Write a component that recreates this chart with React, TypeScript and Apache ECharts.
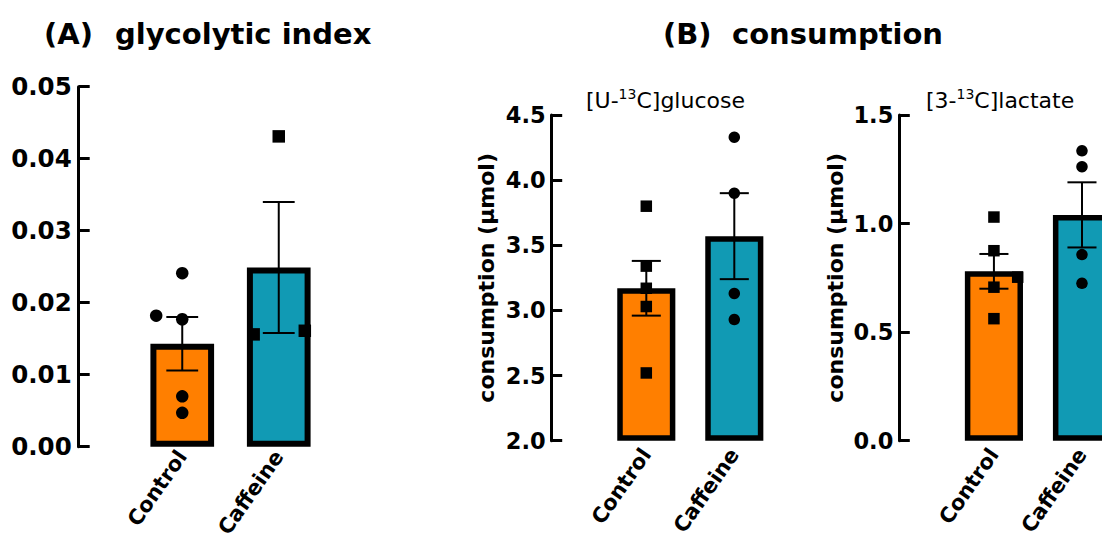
import React, { useEffect, useRef } from 'react';
import * as echarts from 'echarts';

// ---------- data ----------
const categories = ['Control', 'Caffeine'];

// (A) glycolytic index
const giMean = [0.0143, 0.0249];
const giSem = [0.0037, 0.0091];
const giControl = [0.0241, 0.0182, 0.0177, 0.007, 0.0047];
const giControlJitter = [0, -0.27, 0, 0, 0];
const giCaffeine = [0.0431, 0.0156, 0.0161];
const giCaffeineJitter = [0, -0.26, 0.27];

// (B) [U-13C]glucose consumption (µmol)
const gluMean = [3.17, 3.57];
const gluSem = [0.21, 0.33];
const gluControl = [3.8, 3.34, 3.17, 3.03, 2.52];
const gluControlJitter = [0, 0, 0, 0, 0];
const gluCaffeine = [4.33, 3.9, 3.13, 2.93];
const gluCaffeineJitter = [0, 0, 0, 0];

// (B) [3-13C]lactate consumption (µmol)
const lacMean = [0.78, 1.04];
const lacSem = [0.08, 0.15];
const lacControl = [1.03, 0.875, 0.707, 0.753, 0.562];
const lacControlJitter = [0, 0, 0, 0.27, 0];
const lacCaffeine = [1.335, 1.262, 0.857, 0.725];
const lacCaffeineJitter = [0, 0, 0, 0];

// ---------- style ----------
const FONT = 'DejaVu Sans';
const ORANGE = '#FF7F00';
const TEAL = '#119AB4';
const BAR_COLORS = [ORANGE, TEAL];

type Panel = {
  grid: { left: number; right: number; top: number; bottom: number };
  yMin: number;
  yMax: number;
  yInterval: number;
  decimals: number;
  yOffset: number;
  labelSize: number;
  xLabelSize: number;
  xLabelMargin: number;
  labelMargin: number;
  tickLen: number;
  yName?: string;
  nameGap?: number;
  means: number[];
  sems: number[];
  ctrl: number[];
  ctrlJit: number[];
  caf: number[];
  cafJit: number[];
  ctrlSymbol: string;
  cafSymbol: string;
  symSize: number;
  borderW: number;
};

const panels: Panel[] = [
  {
    grid: { left: 134, right: 1102 - 327, top: 86.7, bottom: 540 - 446.7 },
    yMin: 0, yMax: 0.05, yInterval: 0.01, decimals: 2, yOffset: 55.3,
    labelSize: 24.5, xLabelSize: 21, xLabelMargin: 6, labelMargin: 7, tickLen: 11,
    means: giMean, sems: giSem,
    ctrl: giControl, ctrlJit: giControlJitter, caf: giCaffeine, cafJit: giCaffeineJitter,
    ctrlSymbol: 'circle', cafSymbol: 'rect', symSize: 12.5, borderW: 6,
  },
  {
    grid: { left: 602.3, right: 1102 - 778.3, top: 115, bottom: 540 - 440.7 },
    yMin: 2, yMax: 4.5, yInterval: 0.5, decimals: 1, yOffset: 50.6,
    labelSize: 22.5, xLabelSize: 21, xLabelMargin: 10, labelMargin: 6, tickLen: 10.5,
    yName: 'consumption (µmol)', nameGap: 54,
    means: gluMean, sems: gluSem,
    ctrl: gluControl, ctrlJit: gluControlJitter, caf: gluCaffeine, cafJit: gluCaffeineJitter,
    ctrlSymbol: 'rect', cafSymbol: 'circle', symSize: 11.5, borderW: 5.5,
  },
  {
    grid: { left: 949.9, right: 1102 - 1126, top: 115, bottom: 540 - 440.7 },
    yMin: 0, yMax: 1.5, yInterval: 0.5, decimals: 1, yOffset: 50.6,
    labelSize: 22.5, xLabelSize: 21, xLabelMargin: 10, labelMargin: 6, tickLen: 10.5,
    yName: 'consumption (µmol)', nameGap: 53,
    means: lacMean, sems: lacSem,
    ctrl: lacControl, ctrlJit: lacControlJitter, caf: lacCaffeine, cafJit: lacCaffeineJitter,
    ctrlSymbol: 'rect', cafSymbol: 'circle', symSize: 11.5, borderW: 5.5,
  },
];

function buildOption() {
  const grid: any[] = [];
  const xAxis: any[] = [];
  const yAxis: any[] = [];
  const series: any[] = [];

  panels.forEach((p, i) => {
    grid.push({ ...p.grid, containLabel: false, outerBoundsMode: 'none' });
    xAxis.push({
      gridIndex: i,
      type: 'category',
      data: categories,
      axisLine: { show: false, onZero: false },
      axisTick: { show: false },
      splitLine: { show: false },
      axisLabel: {
        interval: 0,
        rotate: 55,
        margin: p.xLabelMargin,
        color: '#000',
        fontFamily: FONT,
        fontWeight: 'bold',
        fontSize: p.xLabelSize,
      },
    });
    xAxis.push({
      gridIndex: i,
      type: 'value',
      min: -0.5,
      max: 1.5,
      show: false,
      axisLine: { onZero: false },
    });
    yAxis.push({
      gridIndex: i,
      type: 'value',
      min: p.yMin,
      max: p.yMax,
      interval: p.yInterval,
      offset: p.yOffset,
      axisLine: { show: true, onZero: false, lineStyle: { color: '#000', width: 3 } },
      axisTick: { show: true, inside: true, length: p.tickLen, lineStyle: { color: '#000', width: 3 } },
      splitLine: { show: false },
      axisLabel: {
        color: '#000',
        fontFamily: FONT,
        fontWeight: 'bold',
        fontSize: p.labelSize,
        margin: p.labelMargin,
        formatter: (v: number) => v.toFixed(p.decimals),
      },
      name: p.yName || '',
      nameLocation: 'middle',
      nameGap: p.nameGap || 0,
      nameTextStyle: { color: '#000', fontFamily: FONT, fontWeight: 'bold', fontSize: 22 },
    });

    const base = p.yMin;
    const bw = p.borderW;
    // bars
    series.push({
      type: 'custom',
      xAxisIndex: 2 * i,
      yAxisIndex: i,
      z: 2,
      data: p.means.map((m, k) => [k, m]),
      renderItem: (params: any, api: any) => {
        const k = api.value(0);
        const v = api.value(1);
        const top = api.coord([k, v]);
        const bot = api.coord([k, base]);
        const w = api.size([1, 0])[0] * 0.66;
        return {
          type: 'rect',
          shape: {
            x: top[0] - w / 2 + bw / 2,
            y: top[1] + bw / 2,
            width: w - bw,
            height: bot[1] - top[1] - bw,
          },
          style: { fill: BAR_COLORS[params.dataIndex], stroke: '#000', lineWidth: bw },
        };
      },
    });
    // error bars (mean ± SEM)
    series.push({
      type: 'custom',
      xAxisIndex: 2 * i,
      yAxisIndex: i,
      z: 3,
      data: p.means.map((m, k) => [k, m, p.sems[k]]),
      renderItem: (params: any, api: any) => {
        const k = api.value(0);
        const m = api.value(1);
        const s = api.value(2);
        const hi = api.coord([k, m + s]);
        const lo = api.coord([k, m - s]);
        const half = api.size([1, 0])[0] * 0.165;
        const st = { stroke: '#000', lineWidth: 2 };
        return {
          type: 'group',
          children: [
            { type: 'line', shape: { x1: hi[0], y1: hi[1], x2: lo[0], y2: lo[1] }, style: st },
            { type: 'line', shape: { x1: hi[0] - half, y1: hi[1], x2: hi[0] + half, y2: hi[1] }, style: st },
            { type: 'line', shape: { x1: lo[0] - half, y1: lo[1], x2: lo[0] + half, y2: lo[1] }, style: st },
          ],
        };
      },
    });
    // individual points
    series.push({
      type: 'scatter',
      xAxisIndex: 2 * i + 1,
      yAxisIndex: i,
      z: 4,
      symbol: p.ctrlSymbol,
      symbolSize: p.symSize,
      itemStyle: { color: '#000', opacity: 1 },
      data: p.ctrl.map((v, j) => [p.ctrlJit[j], v]),
    });
    series.push({
      type: 'scatter',
      xAxisIndex: 2 * i + 1,
      yAxisIndex: i,
      z: 4,
      symbol: p.cafSymbol,
      symbolSize: p.symSize,
      itemStyle: { color: '#000', opacity: 1 },
      data: p.caf.map((v, j) => [1 + p.cafJit[j], v]),
    });
  });

  const titleFont = `bold 29px "${FONT}"`;
  const graphic = [
    { type: 'text', x: 44, y: 34, style: { text: '(A)', font: titleFont, fill: '#000', verticalAlign: 'middle' } },
    { type: 'text', x: 115, y: 34, style: { text: 'glycolytic index', font: titleFont, fill: '#000', verticalAlign: 'middle' } },
    { type: 'text', x: 663, y: 34, style: { text: '(B)', font: titleFont, fill: '#000', verticalAlign: 'middle' } },
    { type: 'text', x: 732, y: 34, style: { text: 'consumption', font: titleFont, fill: '#000', verticalAlign: 'middle' } },
    {
      type: 'text', x: 586, y: 100,
      style: {
        text: '{a|[U-}{s|13}{a|C]glucose}',
        fill: '#000', verticalAlign: 'middle',
        rich: {
          a: { fontFamily: FONT, fontSize: 22, lineHeight: 26, verticalAlign: 'middle', fill: '#000' },
          s: { fontFamily: FONT, fontSize: 14, lineHeight: 16, verticalAlign: 'top', fill: '#000' },
        },
      },
    },
    {
      type: 'text', x: 926, y: 100,
      style: {
        text: '{a|[3-}{s|13}{a|C]lactate}',
        fill: '#000', verticalAlign: 'middle',
        rich: {
          a: { fontFamily: FONT, fontSize: 22, lineHeight: 26, verticalAlign: 'middle', fill: '#000' },
          s: { fontFamily: FONT, fontSize: 14, lineHeight: 16, verticalAlign: 'top', fill: '#000' },
        },
      },
    },
  ];

  return {
    animation: false,
    backgroundColor: '#ffffff',
    grid,
    xAxis,
    yAxis,
    series,
    graphic,
  };
}

export default function App() {
  const ref = useRef<HTMLDivElement>(null);
  useEffect(() => {
    if (!ref.current) return;
    const chart = echarts.init(ref.current, undefined, { renderer: 'svg' });
    chart.setOption(buildOption() as any);
    return () => chart.dispose();
  }, []);
  return (
    <div
      ref={ref}
      style={{ position: 'fixed', left: 0, top: 0, width: 1102, height: 540, background: '#fff', overflow: 'hidden' }}
    />
  );
}
